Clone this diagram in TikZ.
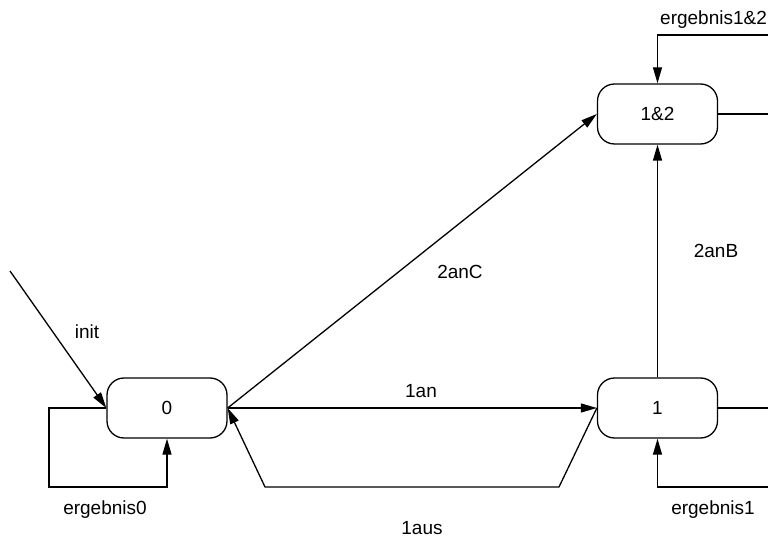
\documentclass[tikz,border=0pt]{standalone}
\usepackage{fontspec}
\setmainfont{Liberation Sans}
\usetikzlibrary{arrows.meta}
\begin{document}
\begin{tikzpicture}[x=1pt,y=-1pt,
  every node/.style={font=\fontsize{19}{22}\selectfont},
  state/.style={draw, line width=1.3pt, rounded corners=17pt, minimum width=120pt, minimum height=60pt, inner sep=0pt},
  edge/.style={draw, line width=1.3pt, -{Triangle[length=16pt,width=9pt]}},
  plain/.style={draw, line width=1.3pt},
  lbl/.style={anchor=base, inner sep=0pt}]
\useasboundingbox (0,0) rectangle (768,537);
\node[state] (n0) at (167,408) {0};
\node[state] (n1) at (657.5,408) {1};
\node[state] (n12) at (657.5,114) {1\&2};
\coordinate (init) at (10,271);
\coordinate (l0) at (49,487);
\coordinate (a1) at (559,487);
\coordinate (a2) at (265,487);
\coordinate (r1) at (768,408);
\coordinate (r1b) at (768,487);
\coordinate (r12) at (768,114);
\coordinate (r12t) at (768,35);
% edges
\draw[edge] (init) -- (n0.west);
\draw[edge] (n0.west) -| (l0) -| (n0.south);
\draw[edge] (n0.east) -- (n12.west);
\draw[edge] (n0.east) -- (n1.west);
\draw[edge] (n1.west) -- (a1) -- (a2) -- (n0.east);
\draw[edge] (n1.north) -- (n12.south);
\draw[edge] (r1b) -| (n1.south);
\draw[edge] (r12t) -| (n12.north);
\draw[plain] (n1.east) -- (r1);
\draw[plain] (n12.east) -- (r12);
% labels
\node[lbl] (Linit) at (87,338) {init};
\node[lbl] (Le0) at (105,514) {ergebnis0};
\node[lbl] (L2anC) at (460,279) {2anC};
\node[lbl] (L1an) at (421,397) {1an};
\node[lbl] (L1aus) at (422,534) {1aus};
\node[lbl] (L2anB) at (716,258) {2anB};
\node[lbl] (Le1) at (713,514) {ergebnis1};
\node[lbl, anchor=base west] (Le12) at (660,25) {ergebnis1\&2};
\end{tikzpicture}
\end{document}
